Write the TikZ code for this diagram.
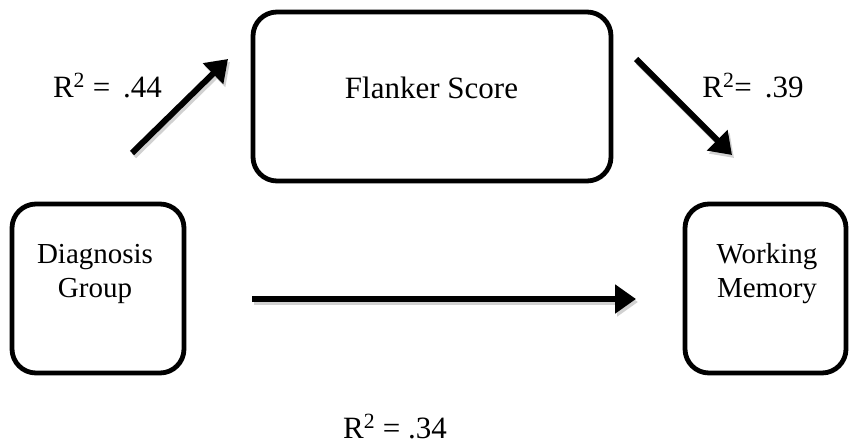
\documentclass[tikz,border=0pt]{standalone}
\usepackage{fontspec}
\setmainfont{Liberation Serif}
\usetikzlibrary{arrows.meta}
\begin{document}
\begin{tikzpicture}[x=1pt,y=-1pt,
  box/.style={draw, line width=4.8pt, rounded corners=24pt, inner sep=0pt},
  lab/.style={anchor=base, font=\fontsize{31}{36}\selectfont, inner sep=0pt},
  boxtext/.style={anchor=base, font=\fontsize{29}{34}\selectfont, inner sep=0pt},
  arr/.style={line width=6pt, -{Triangle[length=21pt,width=28pt]}},
  shadowarr/.style={line width=6pt, black!18, -{Triangle[length=21pt,width=28pt]}}]
\useasboundingbox (0,0) rectangle (850,447);
% boxes
\node[box, minimum width=358pt, minimum height=169pt] (flanker) at (432,96.5) {};
\node[box, minimum width=172pt, minimum height=169pt] (diag) at (98,288.5) {};
\node[box, minimum width=161pt, minimum height=169pt] (wm) at (765.5,288.5) {};
% box texts
\node[lab] (ftext) at (431.5,98) {Flanker Score};
\node[boxtext] (dtext1) at (95,263) {Diagnosis};
\node[boxtext] (dtext2) at (95,297) {Group};
\node[boxtext] (wtext1) at (767,263) {Working};
\node[boxtext] (wtext2) at (767,297) {Memory};
% labels
\node[lab] (r44) at (107.5,97) {R\textsuperscript{2} = \,.44};
\node[lab] (r39) at (753,97) {R\textsuperscript{2}= \,.39};
\node[lab] (r34) at (395,438) {R\textsuperscript{2} = .34};
% arrow end points
\coordinate (a1s) at (132,153);
\coordinate (a1e) at (228,59);
\coordinate (a2s) at (636,59);
\coordinate (a2e) at (732,155);
\coordinate (a3s) at (252,299);
\coordinate (a3e) at (636,299);
% shadows
\draw[shadowarr] ([shift={(2,3)}]a1s) -- ([shift={(2,3)}]a1e);
\draw[shadowarr] ([shift={(2,3)}]a2s) -- ([shift={(2,3)}]a2e);
\draw[shadowarr] ([shift={(2,3)}]a3s) -- ([shift={(2,3)}]a3e);
% arrows
\draw[arr] (a1s) -- (a1e);
\draw[arr] (a2s) -- (a2e);
\draw[arr] (a3s) -- (a3e);
\end{tikzpicture}
\end{document}
